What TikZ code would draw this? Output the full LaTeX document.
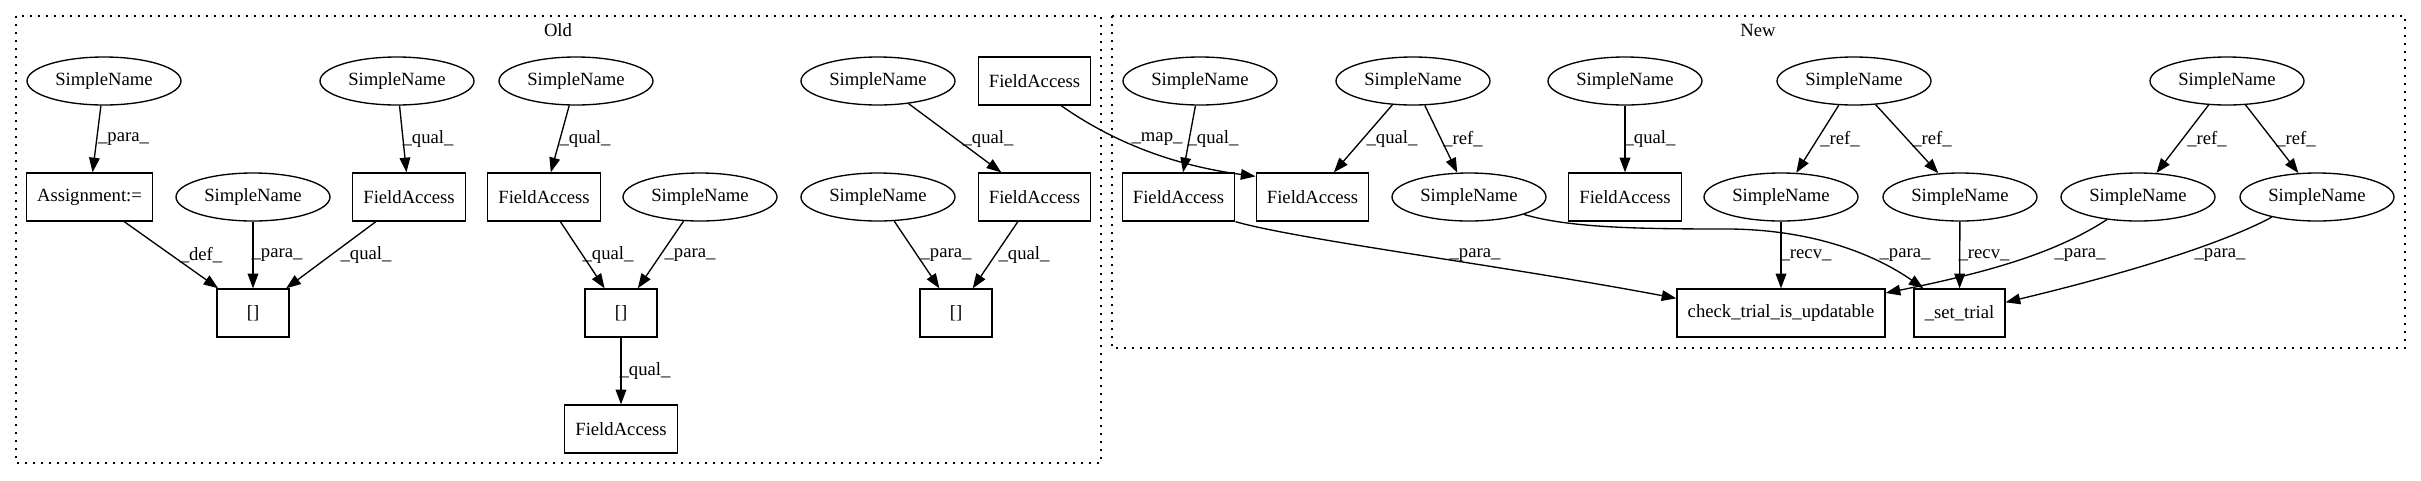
\documentclass[tikz,border=0pt]{standalone}
\usepackage{fontspec}
\setmainfont{Liberation Serif}
\usetikzlibrary{shapes.geometric, arrows.meta}

\begin{document}
\begin{tikzpicture}[
  x=0.75pt, y=-0.75pt,
  every node/.style={font=\fontsize{14}{16}\selectfont},
  namenode/.style={draw, line width=1pt, ellipse, minimum width=115.5pt, minimum height=36pt, inner sep=0pt},
  astbox/.style={draw, line width=1pt, rectangle, minimum width=54pt, minimum height=36pt, inner xsep=8pt, inner ysep=0pt},
  astedge/.style={line width=1pt, -{Triangle[length=11pt, width=8pt]}},
  edgelbl/.style={inner sep=0pt},
  clusterbox/.style={line width=1.2pt, dash pattern=on 1.2pt off 4.8pt}
]
  \useasboundingbox (0,0) rectangle (2421,480);

  % Macro for one labelled straight edge
  % Args: from, to, label position, label text
  \newcommand{\astlink}[4]{%
    \draw[astedge] (#1) -- (#2) node[edgelbl] at (#3) {#4};
  }

  % Clusters
  \draw[clusterbox] (16,16) rectangle (1101,463);
  \node (oldlbl) at (558,30) {Old};
  \draw[clusterbox] (1112,16) rectangle (2405,348);
  \node (newlbl) at (1758,30) {New};

  % Old nodes
  \node[namenode] (o1) at (104,81) {SimpleName};
  \node[astbox] (oasg) at (89.5,197) {Assignment:=};
  \node[namenode] (o2) at (253,197) {SimpleName};
  \node[astbox] (oidx1) at (253,313) {[]};
  \node[namenode] (o3) at (397,81) {SimpleName};
  \node[astbox] (ofa1) at (409,197) {FieldAccess};
  \node[namenode] (o4) at (576,81) {SimpleName};
  \node[astbox] (ofa2) at (544,197) {FieldAccess};
  \node[namenode] (o5) at (700,197) {SimpleName};
  \node[astbox] (oidx2) at (621,313) {[]};
  \node[astbox] (ofa3) at (621,429) {FieldAccess};
  \node[namenode] (o6) at (878,81) {SimpleName};
  \node[namenode] (o7) at (878,197) {SimpleName};
  \node[astbox] (ofa4) at (1034.5,81) {FieldAccess};
  \node[astbox] (ofa5) at (1034.5,197) {FieldAccess};
  \node[astbox] (oidx3) at (956,313) {[]};

  % New nodes
  \node[namenode] (n1) at (1200,81) {SimpleName};
  \node[astbox] (nfa1) at (1178.5,197) {FieldAccess};
  \node[astbox] (nfa2) at (1312.5,197) {FieldAccess};
  \node[namenode] (n2) at (1413,81) {SimpleName};
  \node[namenode] (n3) at (1469,197) {SimpleName};
  \node[namenode] (n4) at (1625,81) {SimpleName};
  \node[astbox] (nfa3) at (1625,197) {FieldAccess};
  \node[namenode] (n5) at (1854,81) {SimpleName};
  \node[namenode] (n6) at (1781,197) {SimpleName};
  \node[namenode] (n7) at (1960,197) {SimpleName};
  \node[astbox] (ncheck) at (1781,313) {check\_trial\_is\_updatable};
  \node[astbox] (nset) at (1959.5,313) {\_set\_trial};
  \node[namenode] (n9) at (2227,81) {SimpleName};
  \node[namenode] (n8) at (2138,197) {SimpleName};
  \node[namenode] (n10) at (2317,197) {SimpleName};

  % Old edges
  \astlink{o1}{oasg}{123.5,139}{\_para\_}
  \astlink{oasg}{oidx1}{201,255}{\_def\_}
  \astlink{o2}{oidx1}{277,255}{\_para\_}
  \astlink{ofa1}{oidx1}{366,255}{\_qual\_}
  \astlink{o3}{ofa1}{428,139}{\_qual\_}
  \astlink{o4}{ofa2}{585,139}{\_qual\_}
  \astlink{ofa2}{oidx2}{608,255}{\_qual\_}
  \astlink{o5}{oidx2}{690,255}{\_para\_}
  \astlink{oidx2}{ofa3}{645,371}{\_qual\_}
  \astlink{o6}{ofa5}{988,139}{\_qual\_}
  \astlink{o7}{oidx3}{946,255}{\_para\_}
  \astlink{ofa5}{oidx3}{1024,255}{\_qual\_}

  % Mapping edge across clusters
  \draw[astedge] ([xshift=20pt]ofa4.south) .. controls (1110,140) and (1170,165)
    .. ([yshift=-3pt]nfa2.north west) node[edgelbl] at (1157,139) {\_map\_};

  % New edges
  \astlink{n1}{nfa1}{1213,139}{\_qual\_}
  \astlink{n2}{nfa2}{1392,139}{\_qual\_}
  \astlink{n2}{n3}{1463,139}{\_ref\_}
  \astlink{n4}{nfa3}{1650,139}{\_qual\_}
  \astlink{n5}{n6}{1840,139}{\_ref\_}
  \astlink{n5}{n7}{1932,139}{\_ref\_}
  \astlink{n6}{ncheck}{1806,255}{\_recv\_}
  \astlink{n7}{nset}{1984,255}{\_recv\_}
  \astlink{n9}{n8}{2207,139}{\_ref\_}
  \astlink{n9}{n10}{2296,139}{\_ref\_}

  % Curved parameter edges
  \draw[astedge] (nfa1.south east) .. controls (1300,240) and (1500,265)
    .. ([yshift=11pt]ncheck.west) node[edgelbl] at (1475,255) {\_para\_};
  \draw[astedge] (n3.south east) .. controls (1570,228) and (1640,229) .. (1730,229)
    .. controls (1820,230) and (1880,258) .. ([xshift=7.5pt]nset.north west)
    node[edgelbl] at (1905,255) {\_para\_};
  \draw[astedge] (n8.216) .. controls (2060,250) and (2000,270)
    .. ([yshift=15pt]ncheck.east) node[edgelbl] at (2080,255) {\_para\_};
  \draw[astedge] (n10.204) .. controls (2220,245) and (2120,275)
    .. ([yshift=8pt]nset.east) node[edgelbl] at (2220,255) {\_para\_};
\end{tikzpicture}
\end{document}
